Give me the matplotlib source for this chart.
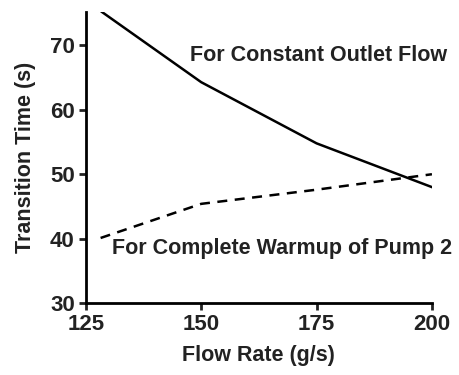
import matplotlib
matplotlib.use("Agg")
import matplotlib.pyplot as plt

# data
flow = [128.5, 150, 175, 200]
outlet_time = [75.2, 64.3, 54.8, 48.0]
warmup_flow = [128.2, 150, 175, 200]
warmup_time = [40.1, 45.4, 47.6, 50.0]
xticks = [125, 150, 175, 200]
yticks = [30, 40, 50, 60, 70]

plt.rcParams['font.family'] = ['Liberation Sans', 'DejaVu Sans']
plt.rcParams['font.weight'] = 'bold'

fig = plt.figure(figsize=(4.59, 3.75), dpi=100)
ax = fig.add_axes([0.187, 0.192, 0.754, 0.776])

ax.plot(flow, outlet_time, color='black', lw=1.8)
ax.plot(warmup_flow, warmup_time, color='black', lw=1.8, ls=(0, (4, 3)))

ax.text(175.4, 68.4, "For Constant Outlet Flow", fontsize=15.5, fontweight='bold',
        ha='center', va='center', color='#222222')
ax.text(167.6, 38.4, "For Complete Warmup of Pump 2", fontsize=15.5, fontweight='bold',
        ha='center', va='center', color='#222222')

ax.set_xlim(125, 200)
ax.set_ylim(30, 75.2)
ax.set_xticks(xticks)
ax.set_yticks(yticks)
ax.spines['top'].set_visible(False)
ax.spines['right'].set_visible(False)
ax.spines['left'].set_linewidth(2)
ax.spines['bottom'].set_linewidth(2)
ax.tick_params(width=2, length=5, labelsize=16, pad=3, colors='#222222')
for lab in ax.get_xticklabels() + ax.get_yticklabels():
    lab.set_fontweight('bold')
ax.set_xlabel("Flow Rate (g/s)", fontsize=15.5, fontweight='bold', color='#222222', labelpad=7)
ax.set_ylabel("Transition Time (s)", fontsize=15.5, fontweight='bold', color='#222222', labelpad=10)

fig.savefig("out.png", dpi=100)
